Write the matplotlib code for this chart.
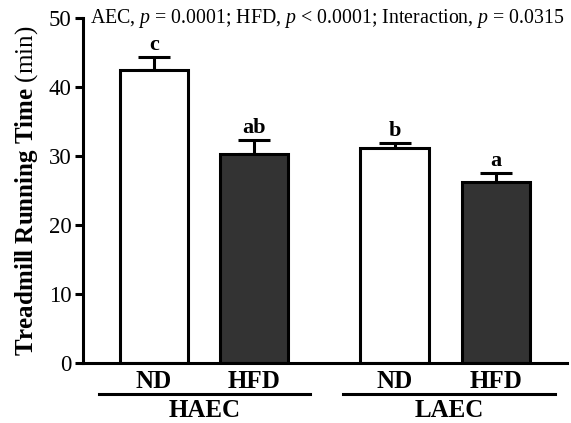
import matplotlib
matplotlib.use("Agg")
import matplotlib.pyplot as plt
from matplotlib.transforms import blended_transform_factory

# ---- data ----
diet_labels = ["ND", "HFD", "ND", "HFD"]
group_labels = ["HAEC", "LAEC"]
means = [42.4, 30.3, 31.1, 26.3]
sems = [2.0, 2.0, 0.8, 1.3]
letters = ["c", "ab", "b", "a"]
y_ticks = [0, 10, 20, 30, 40, 50]
stats_text = r"AEC, $p$ = 0.0001; HFD, $p$ < 0.0001; Interaction, $p$ = 0.0315"

# ---- layout ----
positions = [0.0, 1.0, 2.4, 3.41]
fills = ["white", "#333333", "white", "#333333"]
bar_w = 0.68

plt.rcParams["font.family"] = ["Liberation Serif", "DejaVu Serif"]
plt.rcParams["mathtext.fontset"] = "custom"
plt.rcParams["mathtext.rm"] = "Liberation Serif"
plt.rcParams["mathtext.it"] = "Liberation Serif:italic"
plt.rcParams["mathtext.bf"] = "Liberation Serif:bold"

fig = plt.figure(figsize=(5.71, 4.23), dpi=100)
ax = fig.add_axes([0.145, 0.1418, 0.848, 0.8156])

ax.bar(positions, means, width=bar_w, color=fills, edgecolor="black",
       linewidth=2.2, zorder=2)
ax.errorbar(positions, means, yerr=[[0] * len(sems), sems], fmt="none",
            ecolor="black", elinewidth=2.2, capsize=11.5, capthick=2.2, zorder=1)

for x, m, s, l in zip(positions, means, sems, letters):
    ax.annotate(l, (x, m + s), xytext=(0, 1.2), textcoords="offset points",
                ha="center", va="bottom", fontsize=16, fontweight="bold")

ax.set_ylim(0, 50)
ax.set_xlim(-0.71, 4.12)
ax.set_yticks(y_ticks)
ax.set_yticklabels([str(t) for t in y_ticks], fontsize=16.5)
ax.set_xticks([])
for sp in ["top", "right"]:
    ax.spines[sp].set_visible(False)
for sp in ["left", "bottom"]:
    ax.spines[sp].set_linewidth(2.2)
ax.tick_params(axis="y", length=6, width=2.2, pad=2)

ax.set_ylabel(r"$\mathbf{Treadmill\ Running\ Time}$ (min)", fontsize=18, labelpad=6)

ax.text(0.015, 1.0, stats_text, transform=ax.transAxes, fontsize=14.3,
        ha="left", va="center")

trans = blended_transform_factory(ax.transData, ax.transAxes)
for x, lab in zip(positions, diet_labels):
    ax.text(x, -0.055, lab, transform=trans, ha="center", va="center",
            fontsize=18, fontweight="bold")

group_spans = [(-0.55, 1.56), (1.89, 4.0)]
for (x0, x1), lab in zip(group_spans, group_labels):
    ax.plot([x0, x1], [-0.09, -0.09], transform=trans, color="black",
            linewidth=2.2, clip_on=False)
    ax.text((x0 + x1) / 2, -0.137, lab, transform=trans, ha="center",
            va="center", fontsize=18, fontweight="bold")

fig.savefig("out.png", dpi=100)
